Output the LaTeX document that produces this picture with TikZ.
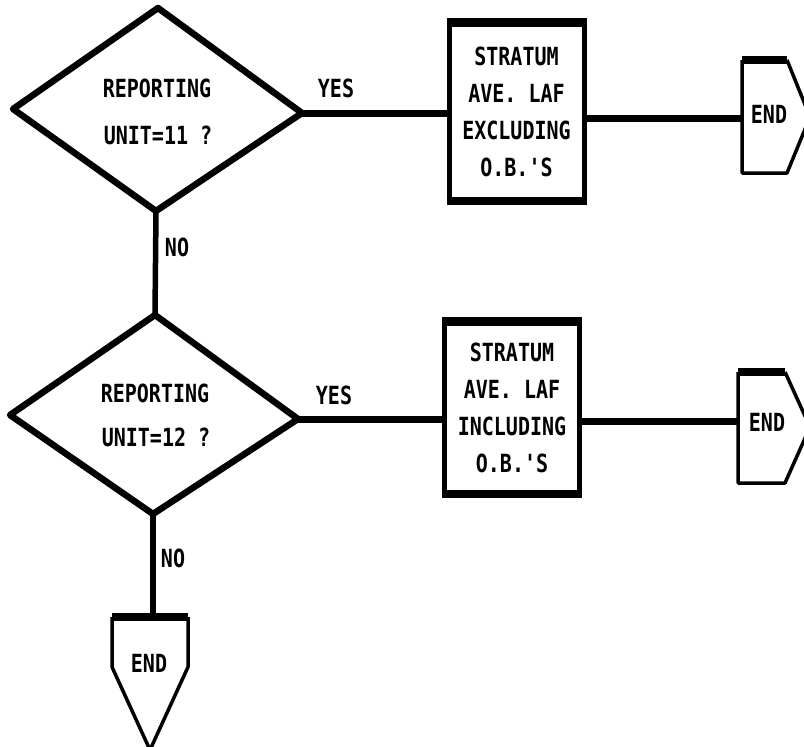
\documentclass[tikz,border=0pt]{standalone}
\usepackage{fontspec}
\newfontfamily\dm{DejaVu Sans Mono}[FakeStretch=0.8]
\begin{document}
\begin{tikzpicture}[x=1pt,y=-1pt,
  lbl/.style={font=\dm\bfseries\fontsize{25}{37}\selectfont, inner sep=0pt},
  shp/.style={line width=6.5pt, line join=round},
  conn/.style={line width=7pt},
  boxst/.style={draw, line width=5pt, minimum width=135pt, minimum height=175pt, inner sep=0pt, align=center, font=\dm\bfseries\fontsize{25}{37}\selectfont},
  endedge/.style={line width=3.5pt, line join=round},
  endtop/.style={line width=8pt},
]
\useasboundingbox (0,0) rectangle (804,747);

% Decision 1
\coordinate (d1t) at (158,8);
\coordinate (d1r) at (302,113);
\coordinate (d1b) at (156,211);
\coordinate (d1l) at (13,109);
\draw[shp] (d1t) -- (d1r) -- (d1b) -- (d1l) -- cycle;
\node[lbl] (d1a) at (157,88) {REPORTING};
\node[lbl] (d1c) at (158,135) {UNIT=11 ?};

% Decision 2
\coordinate (d2t) at (155,315);
\coordinate (d2r) at (298,419);
\coordinate (d2b) at (153,514);
\coordinate (d2l) at (10,415);
\draw[shp] (d2t) -- (d2r) -- (d2b) -- (d2l) -- cycle;
\node[lbl] (d2a) at (155,393) {REPORTING};
\node[lbl] (d2c) at (156,437) {UNIT=12 ?};

% Process boxes
\node[boxst] (b1) at (516.5,111.5) {STRATUM\\AVE. LAF\\EXCLUDING\\O.B.'S};
\draw[line width=7pt] (b1.north west) -- (b1.north east);
\draw[line width=7pt] (b1.south west) -- (b1.south east);
\node[boxst, minimum height=169pt] (b2) at (512,407.5) {STRATUM\\AVE. LAF\\INCLUDING\\O.B.'S};
\draw[line width=7pt] (b2.north west) -- (b2.north east);
\draw[line width=7pt] (b2.south west) -- (b2.south east);

% End 1
\coordinate (e1nw) at (742,60);
\coordinate (e1ne) at (787,60);
\coordinate (e1tip) at (810,117);
\coordinate (e1se) at (787,173);
\coordinate (e1sw) at (742,173);
\coordinate (e1w) at (742,118);
\draw[endedge] (e1nw) -- (e1sw) -- (e1se) -- (e1tip) -- (e1ne);
\draw[endtop] (e1nw) -- (e1ne);
\node[lbl] (e1) at (769,114) {END};

% End 2
\coordinate (e2nw) at (738,372);
\coordinate (e2ne) at (785,372);
\coordinate (e2tip) at (810,427);
\coordinate (e2se) at (785,483);
\coordinate (e2sw) at (738,483);
\coordinate (e2w) at (738,421);
\draw[endedge] (e2nw) -- (e2sw) -- (e2se) -- (e2tip) -- (e2ne);
\draw[endtop] (e2nw) -- (e2ne);
\node[lbl] (e2) at (767,422) {END};

% End 3
\coordinate (e3nw) at (112,617);
\coordinate (e3ne) at (188,617);
\coordinate (e3n) at (153,617);
\coordinate (e3se) at (188,667);
\coordinate (e3tip) at (150,750);
\coordinate (e3sw) at (112,667);
\draw[endedge] (e3nw) -- (e3sw) -- (e3tip) -- (e3se) -- (e3ne);
\draw[endtop] (e3nw) -- (e3ne);
\node[lbl] (e3) at (149,663) {END};

% Connectors
\draw[conn] (d1r) -- (d1r -| b1.west);
\draw[conn] (b1.east |- e1w) -- (e1w);
\draw[conn] (d2r) -- (d2r -| b2.west);
\draw[conn] (b2.east |- e2w) -- (e2w);
\draw[line width=5.5pt] (d1b) -- (d2t);
\draw[line width=5.5pt] (d2b) -- (e3n);

% Labels
\node[lbl] (y1) at (336,88) {YES};
\node[lbl] (y2) at (334,395) {YES};
\node[lbl] (n1) at (177,247) {NO};
\node[lbl] (n2) at (173,558) {NO};
\end{tikzpicture}
\end{document}
